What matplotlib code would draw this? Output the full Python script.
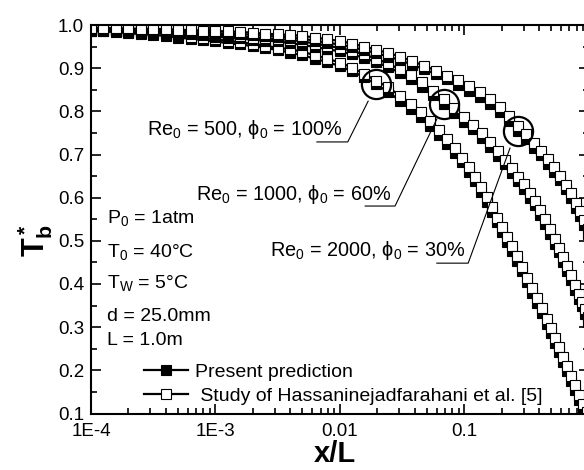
import matplotlib.pyplot as plt
import numpy as np
import matplotlib as mpl
from matplotlib.ticker import LogLocator, MultipleLocator, NullFormatter

mpl.rcParams['font.family'] = ['Liberation Sans', 'DejaVu Sans']
mpl.rcParams['mathtext.fontset'] = 'custom'
mpl.rcParams['mathtext.rm'] = 'Liberation Sans'
mpl.rcParams['mathtext.it'] = 'Liberation Sans:italic'
mpl.rcParams['mathtext.bf'] = 'Liberation Sans:bold'
mpl.rcParams['font.size'] = 14

# log10(x/L) of the sampled positions, and bulk temperature T_b* for each case
logx_500 = [-4.000, -3.904, -3.799, -3.703, -3.598, -3.502, -3.397, -3.301, -3.196, -3.100,
            -3.003, -2.899, -2.802, -2.698, -2.601, -2.497, -2.400, -2.304, -2.199, -2.103,
            -1.998, -1.902, -1.805, -1.709, -1.612, -1.516, -1.428, -1.347, -1.275, -1.203,
            -1.138, -1.074, -1.018, -0.961, -0.913, -0.865, -0.817, -0.777, -0.736, -0.696,
            -0.656, -0.616, -0.576, -0.535, -0.495, -0.455, -0.415, -0.375, -0.334, -0.302,
            -0.270, -0.238, -0.206, -0.174, -0.141, -0.109, -0.077, -0.045, -0.013]
pred_500 = [0.986, 0.985, 0.984, 0.981, 0.979, 0.977, 0.975, 0.971, 0.968, 0.965,
            0.962, 0.958, 0.955, 0.951, 0.947, 0.942, 0.936, 0.930, 0.922, 0.914,
            0.905, 0.893, 0.879, 0.863, 0.845, 0.825, 0.805, 0.787, 0.767, 0.746,
            0.725, 0.703, 0.682, 0.660, 0.638, 0.614, 0.590, 0.567, 0.543, 0.521,
            0.498, 0.476, 0.453, 0.429, 0.404, 0.380, 0.357, 0.333, 0.308, 0.286,
            0.264, 0.242, 0.220, 0.198, 0.176, 0.154, 0.132, 0.110, 0.092]
ref_500 = [0.991, 0.990, 0.989, 0.986, 0.984, 0.982, 0.980, 0.976, 0.973, 0.970,
           0.967, 0.963, 0.960, 0.956, 0.952, 0.947, 0.944, 0.938, 0.930, 0.922,
           0.913, 0.901, 0.887, 0.871, 0.856, 0.836, 0.816, 0.798, 0.778, 0.757,
           0.736, 0.714, 0.693, 0.671, 0.649, 0.625, 0.601, 0.578, 0.554, 0.532,
           0.509, 0.487, 0.464, 0.440, 0.415, 0.391, 0.368, 0.344, 0.319, 0.297,
           0.275, 0.253, 0.231, 0.209, 0.187, 0.165, 0.143, 0.121, 0.103]

logx_1000 = [-4.000, -3.904, -3.799, -3.703, -3.598, -3.502, -3.397, -3.301, -3.196, -3.100,
             -3.003, -2.899, -2.802, -2.698, -2.601, -2.497, -2.400, -2.304, -2.199, -2.103,
             -1.998, -1.902, -1.805, -1.709, -1.612, -1.516, -1.428, -1.339, -1.251, -1.162,
             -1.082, -1.002, -0.929, -0.857, -0.793, -0.728, -0.672, -0.616, -0.568, -0.519,
             -0.471, -0.431, -0.391, -0.350, -0.310, -0.270, -0.238, -0.206, -0.174, -0.141,
             -0.109, -0.077, -0.053, -0.029, -0.005]
pred_1000 = [0.987, 0.986, 0.985, 0.984, 0.983, 0.982, 0.981, 0.979, 0.978, 0.976,
             0.973, 0.971, 0.969, 0.966, 0.964, 0.962, 0.958, 0.954, 0.949, 0.944,
             0.939, 0.932, 0.924, 0.914, 0.903, 0.889, 0.874, 0.856, 0.837, 0.817,
             0.796, 0.776, 0.758, 0.738, 0.717, 0.696, 0.677, 0.657, 0.638, 0.620,
             0.600, 0.582, 0.561, 0.539, 0.516, 0.493, 0.473, 0.452, 0.431, 0.409,
             0.387, 0.365, 0.348, 0.330, 0.312]
ref_1000 = [0.992, 0.991, 0.990, 0.989, 0.988, 0.987, 0.986, 0.984, 0.983, 0.981,
            0.978, 0.976, 0.974, 0.971, 0.969, 0.967, 0.966, 0.962, 0.957, 0.952,
            0.947, 0.940, 0.932, 0.922, 0.911, 0.897, 0.885, 0.867, 0.848, 0.828,
            0.807, 0.787, 0.769, 0.749, 0.728, 0.707, 0.688, 0.668, 0.649, 0.631,
            0.611, 0.593, 0.572, 0.550, 0.527, 0.504, 0.484, 0.463, 0.442, 0.420,
            0.398, 0.376, 0.359, 0.341, 0.323]

logx_2000 = [-4.000, -3.904, -3.799, -3.703, -3.598, -3.502, -3.397, -3.301, -3.196, -3.100,
             -3.003, -2.899, -2.802, -2.698, -2.601, -2.497, -2.400, -2.304, -2.199, -2.103,
             -1.998, -1.902, -1.805, -1.709, -1.612, -1.516, -1.420, -1.323, -1.227, -1.138,
             -1.050, -0.961, -0.873, -0.793, -0.712, -0.640, -0.568, -0.503, -0.439, -0.383,
             -0.326, -0.278, -0.230, -0.182, -0.141, -0.101, -0.069, -0.037, -0.005]
pred_2000 = [0.988, 0.988, 0.987, 0.987, 0.986, 0.986, 0.985, 0.984, 0.983, 0.982,
             0.981, 0.980, 0.979, 0.977, 0.975, 0.973, 0.971, 0.968, 0.964, 0.959,
             0.955, 0.949, 0.942, 0.935, 0.927, 0.919, 0.908, 0.898, 0.886, 0.875,
             0.862, 0.848, 0.833, 0.818, 0.798, 0.778, 0.755, 0.736, 0.716, 0.698,
             0.678, 0.659, 0.640, 0.619, 0.600, 0.576, 0.557, 0.537, 0.516]
ref_2000 = [0.993, 0.993, 0.992, 0.992, 0.991, 0.991, 0.990, 0.989, 0.988, 0.987,
            0.986, 0.985, 0.984, 0.982, 0.980, 0.978, 0.977, 0.975, 0.971, 0.967,
            0.963, 0.957, 0.950, 0.943, 0.935, 0.927, 0.916, 0.906, 0.894, 0.883,
            0.873, 0.859, 0.844, 0.829, 0.809, 0.789, 0.766, 0.747, 0.727, 0.709,
            0.689, 0.670, 0.651, 0.630, 0.611, 0.587, 0.568, 0.548, 0.527]

case_labels = ['Re$_0$ = 500, ϕ$_0$ = 100%',
               'Re$_0$ = 1000, ϕ$_0$ = 60%',
               'Re$_0$ = 2000, ϕ$_0$ = 30%']
circled_idx = [23, 29, 36]   # sample highlighted on each curve
conditions = ['P$_0$ = 1atm', 'T$_0$ = 40°C', r'T$_\mathrm{W}$ = 5°C', 'd = 25.0mm', 'L = 1.0m']

fig = plt.figure(figsize=(5.84, 4.70), dpi=100)
ax = fig.add_axes([91 / 584, 1 - 413.5 / 470, 497.6 / 584, 388.5 / 470])

cases = [(logx_500, pred_500, ref_500),
         (logx_1000, pred_1000, ref_1000),
         (logx_2000, pred_2000, ref_2000)]
for i, (lx, tp, tr) in enumerate(cases):
    x = 10 ** np.array(lx)
    hp, = ax.plot(x, tp, '-', color='k', lw=1.6, marker='s', ms=6.8,
                  mfc='k', mec='k', mew=0.8)
    hr, = ax.plot(x, tr, '-', color='k', lw=1.6, marker='s', ms=6.8,
                  mfc='w', mec='k', mew=0.8)
    j = circled_idx[i]
    ax.plot(x[j], tp[j], 'o', ms=21, mfc='none', mec='k', mew=1.6)

# leader lines from each case label to its circle (axes fraction)
leaders = [([0.454, 0.516, 0.557], [0.699, 0.699, 0.804]),
           ([0.551, 0.611, 0.695], [0.534, 0.534, 0.758]),
           ([0.695, 0.758, 0.842], [0.387, 0.387, 0.683])]
label_pos = [(0.504, 0.717), (0.603, 0.549), (0.752, 0.405)]
for (lxs, lys), (tx, ty), lab in zip(leaders, label_pos, case_labels):
    ax.plot(lxs, lys, color='k', lw=0.8, transform=ax.transAxes)
    ax.text(tx, ty, lab, transform=ax.transAxes, ha='right', va='baseline',
            fontsize=14.3)

cond_y = [0.490, 0.403, 0.323, 0.238, 0.176]
for cy, txt in zip(cond_y, conditions):
    ax.text(0.032, cy, txt, transform=ax.transAxes, ha='left', va='baseline',
            fontsize=14)

ax.legend([hp, hr], ['Present prediction', ' Study of Hassaninejadfarahani et al. [5]'],
          loc='upper left', bbox_to_anchor=(0.1065, 0.130), frameon=False,
          numpoints=1, handlelength=2.27, handletextpad=0.36, labelspacing=0.33,
          borderpad=0, borderaxespad=0, fontsize=14)

ax.set_xscale('log')
ax.set_xlim(1e-4, 1)
ax.set_ylim(0.1, 1.0)
ax.set_xticks([1e-4, 1e-3, 1e-2, 1e-1, 1])
ax.set_xticklabels(['1E-4', '1E-3', '0.01', '0.1', ''])
ax.xaxis.set_minor_locator(LogLocator(base=10, subs=np.arange(2, 10) * 1.0, numticks=20))
ax.xaxis.set_minor_formatter(NullFormatter())
ax.set_yticks([0.1, 0.2, 0.3, 0.4, 0.5, 0.6, 0.7, 0.8, 0.9, 1.0])
ax.set_yticklabels(['0.1', '0.2', '0.3', '0.4', '0.5', '0.6', '0.7', '0.8', '0.9', '1.0'])
ax.yaxis.set_minor_locator(MultipleLocator(0.05))
ax.tick_params(which='both', direction='in', top=True, right=True, width=1.2)
ax.tick_params(which='major', length=7, labelsize=13.5)
ax.tick_params(axis='x', which='major', pad=7)
ax.tick_params(axis='y', which='major', pad=5)
ax.tick_params(which='minor', length=4)
for s in ax.spines.values():
    s.set_linewidth(1.5)

ax.set_xlabel('x/L', fontsize=21, fontweight='bold')
ax.xaxis.set_label_coords(0.49, -0.068)
ax.set_ylabel(r'$\mathbf{T_b^*}$', fontsize=22)
ax.yaxis.set_label_coords(-0.072, 0.445)

fig.savefig('out.png', dpi=100)
